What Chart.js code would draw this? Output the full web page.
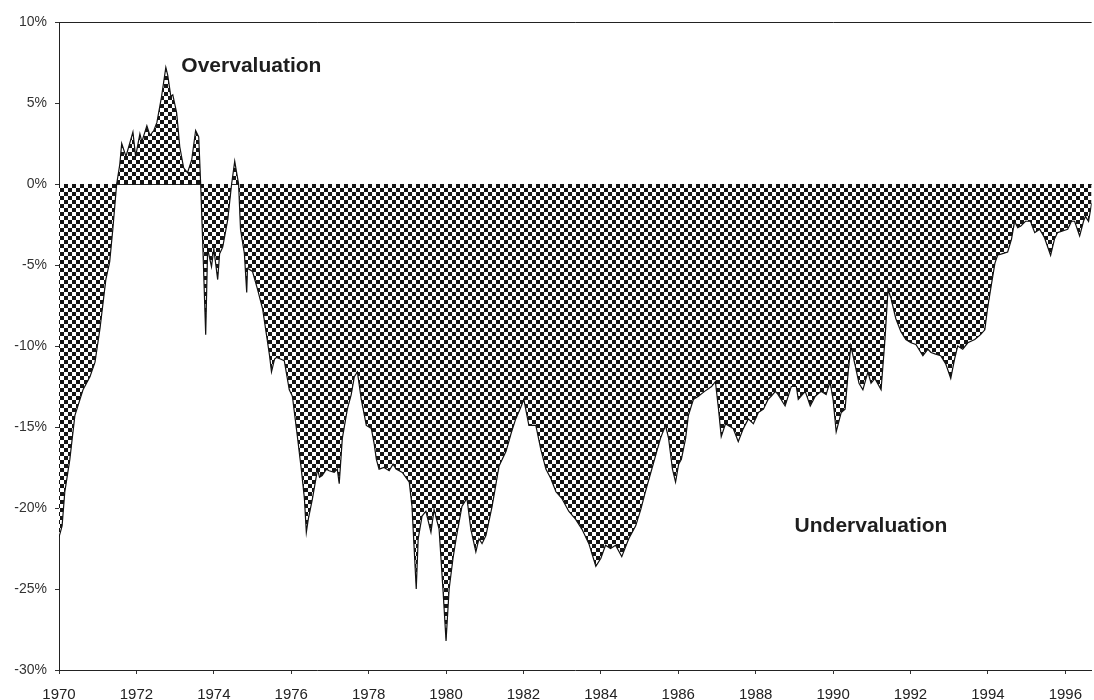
<!DOCTYPE html>
<html>
<head>
<meta charset="utf-8">
<script src="https://cdn.jsdelivr.net/npm/chart.js@4/dist/chart.umd.min.js"></script>
<style>
  html, body { margin: 0; padding: 0; background: #fff; }
  canvas { display: block; }
</style>
</head>
<body>
<canvas id="chart" width="1094" height="700"></canvas>
<script>
// 1970s: dates in decimal years, deviation in %
const years70s = [1970.00,1970.08,1970.15,1970.28,1970.41,1970.62,1970.80,1970.93,1971.06,1971.21,1971.31,1971.39,1971.49,
  1971.57,1971.62,1971.73,1971.91,1971.98,1972.09,1972.14,1972.27,1972.35,1972.45,1972.53,1972.65,1972.76,1972.81,1972.89,1972.94,
  1973.04,1973.12,1973.22,1973.32,1973.43,1973.53,1973.61,1973.66,
  1973.71,1973.79,1973.84,1973.94,1974.00,1974.10,1974.15,1974.23,1974.36,1974.46,1974.54,1974.64,
  1974.69,1974.79,1974.85,1974.87,1975.00,1975.13,1975.26,1975.36,1975.44,1975.49,1975.57,1975.62,1975.72,1975.82,1975.95,
  1976.03,1976.16,1976.26,1976.34,1976.39,1976.44,1976.55,1976.68,1976.73,1976.80,1976.91,1976.98,1977.11,1977.19,1977.24,
  1977.32,1977.45,1977.55,1977.63,1977.71,1977.81,1977.94,1978.07,1978.14,1978.20,1978.27,1978.40,1978.53,1978.63,1978.71,
  1978.87,1979.05,1979.12,1979.23,1979.28,1979.38,1979.48,1979.61,1979.69,1979.82,1979.92];
const values70s = [-21.8,-21.1,-19.0,-17.0,-14.3,-12.7,-11.9,-11.0,-8.9,-5.9,-4.8,-2.8,0,
  1.2,2.5,1.7,3.2,1.7,3.1,2.6,3.6,3.0,3.3,3.8,5.4,7.2,6.7,5.4,5.5,
  4.4,2.3,1.0,0.7,1.5,3.3,2.9,0,
  -3.4,-9.3,-4.0,-5.1,-4.0,-5.9,-4.3,-3.9,-2.2,0,1.4,0,
  -2.8,-4.3,-6.7,-5.2,-5.4,-6.5,-7.7,-9.3,-10.6,-11.6,-10.8,-10.7,-10.8,-10.9,-12.7,
  -13.1,-15.6,-17.6,-19.4,-21.5,-20.7,-19.4,-17.6,-18.1,-18.0,-17.6,-17.7,-17.8,-17.6,-18.5,
  -15.7,-13.9,-13.0,-11.9,-11.6,-13.3,-14.9,-15.1,-16.0,-17.0,-17.6,-17.5,-17.7,-17.3,-17.6,
  -17.8,-18.4,-19.9,-25.0,-21.9,-20.5,-20.2,-21.5,-20.1,-21.3,-25.0];

const years80s = [1980.00,1980.08,1980.18,1980.26,1980.41,1980.54,1980.64,1980.77,1980.85,1980.93,1981.03,1981.19,1981.37,
  1981.55,1981.68,1981.80,1981.91,1982.01,1982.14,1982.32,1982.45,1982.58,1982.71,1982.84,1982.99,1983.17,1983.35,1983.51,
  1983.69,1983.87,1984.00,1984.12,1984.25,1984.38,1984.54,1984.72,1984.90,1985.03,1985.15,1985.28,1985.41,1985.54,1985.67,
  1985.75,1985.85,1985.93,1986.01,1986.08,1986.19,1986.26,1986.39,1986.52,1986.68,1986.86,1986.96,1987.04,1987.11,1987.22,
  1987.29,1987.42,1987.55,1987.68,1987.81,1987.94,1988.07,1988.20,1988.32,1988.40,1988.51,1988.58,1988.76,1988.92,1989.05,
  1989.10,1989.28,1989.41,1989.54,1989.69,1989.82,1989.92];
const values80s = [-28.2,-25.0,-23.1,-21.9,-19.9,-19.4,-21.3,-22.7,-21.9,-22.2,-21.7,-19.9,-17.4,
  -16.5,-15.4,-14.5,-13.9,-13.3,-14.9,-14.9,-16.4,-17.6,-18.2,-19.0,-19.4,-20.2,-20.7,-21.3,
  -22.2,-23.6,-23.1,-22.3,-22.5,-22.3,-23.0,-21.9,-21.1,-20.1,-19.0,-17.9,-16.8,-15.7,-14.9,
  -15.7,-17.6,-18.4,-17.3,-17.0,-15.7,-14.3,-13.3,-13.1,-12.8,-12.5,-12.2,-13.9,-15.6,-14.8,
  -14.9,-15.1,-15.9,-15.1,-14.5,-14.8,-14.1,-13.9,-13.3,-13.1,-12.8,-13.0,-13.7,-12.5,-12.5,
  -13.3,-12.8,-13.7,-13.1,-12.8,-13.0,-12.2];

const years90s = [1990.00,1990.08,1990.21,1990.31,1990.39,1990.46,1990.57,1990.67,1990.77,1990.90,1990.98,1991.08,1991.24,
  1991.34,1991.42,1991.50,1991.62,1991.75,1991.88,1992.01,1992.14,1992.32,1992.45,1992.53,1992.65,1992.78,1992.91,1993.04,
  1993.14,1993.22,1993.35,1993.48,1993.66,1993.81,1993.92,1993.99,1994.07,1994.18,1994.25,1994.38,1994.51,1994.61,1994.69,
  1994.77,1994.85,1994.97,1995.10,1995.21,1995.34,1995.46,1995.62,1995.72,1995.80,1995.93,1996.06,1996.16,1996.24,1996.37,
  1996.47,1996.52,1996.60,1996.68];
const values90s = [-13.3,-15.3,-14.1,-13.9,-11.6,-10.0,-11.2,-12.3,-12.7,-11.6,-12.3,-12.0,-12.7,
  -9.6,-6.5,-7.1,-8.3,-9.1,-9.6,-9.8,-9.9,-10.6,-10.2,-10.4,-10.5,-10.6,-11.1,-12.0,
  -10.8,-10.0,-10.2,-9.8,-9.6,-9.3,-9.0,-7.7,-6.5,-4.9,-4.4,-4.3,-4.2,-3.4,-2.3,
  -2.7,-2.6,-2.3,-2.3,-3.0,-2.8,-3.3,-4.4,-3.4,-3.0,-2.9,-2.8,-2.3,-2.3,-3.2,
  -2.3,-2.0,-2.3,-1.2];

const xTicks = [1970,1972,1974,1976,1978,1980,1982,1984,1986,1988,1990,1992,1994,1996];
const yTicks = [-30,-25,-20,-15,-10,-5,0,5,10];

const allYears = years70s.concat(years80s, years90s);
const allValues = values70s.concat(values80s, values90s);
const points = allYears.map((yr, i) => ({ x: yr, y: allValues[i] }));

// checkered fill
const pc = document.createElement("canvas");
pc.width = 8; pc.height = 8;
const pctx = pc.getContext("2d");
pctx.fillStyle = "#fff";
pctx.fillRect(0, 0, 8, 8);
pctx.fillStyle = "#151515";
pctx.fillRect(0, 0, 4, 4);
pctx.fillRect(4, 4, 4, 4);
const ctx = document.getElementById("chart").getContext("2d");
const checker = ctx.createPattern(pc, "repeat");

const labelsPlugin = {
  id: "areaLabels",
  afterDatasetsDraw(chart) {
    const { ctx, scales } = chart;
    ctx.save();
    ctx.font = 'bold 21px "Liberation Sans", Arial, sans-serif';
    ctx.fillStyle = "#1e1e1e";
    ctx.textAlign = "center";
    ctx.textBaseline = "middle";
    ctx.fillText("Overvaluation", scales.x.getPixelForValue(1974.97), scales.y.getPixelForValue(7.3));
    ctx.fillText("Undervaluation", scales.x.getPixelForValue(1990.98), scales.y.getPixelForValue(-21.1));
    ctx.restore();
  }
};

new Chart(ctx, {
  type: "line",
  data: {
    datasets: [{
      data: points,
      borderColor: "#111",
      borderWidth: 1.2,
      backgroundColor: checker,
      fill: "origin",
      pointRadius: 0,
      tension: 0
    }]
  },
  options: {
    responsive: false,
    animation: false,
    devicePixelRatio: 1,
    layout: { padding: { top: 22, right: -3, left: 0, bottom: 0 } },
    plugins: { legend: { display: false }, tooltip: { enabled: false } },
    scales: {
      x: {
        type: "linear",
        min: 1970,
        max: 1996.68,
        afterBuildTicks: (s) => { s.ticks = xTicks.map(v => ({ value: v })); },
        afterFit: (s) => { s.height = 30; },
        border: { color: "#222", width: 1 },
        grid: { color: "transparent", tickColor: "#333", tickLength: 4 },
        ticks: {
          padding: 12,
          maxRotation: 0,
          autoSkip: false,
          color: "#222",
          font: { family: '"Liberation Sans", Arial, sans-serif', size: 15 },
          callback: (v) => String(v)
        }
      },
      y: {
        min: -30,
        max: 10,
        z: 1,
        afterBuildTicks: (s) => { s.ticks = yTicks.map(v => ({ value: v })); },
        afterFit: (s) => { s.width = 59; },
        border: { color: "#222", width: 1 },
        grid: {
          color: (c) => (c.tick && (c.tick.value === 0 || c.tick.value === 10)) ? "#222" : "transparent",
          tickColor: "#333",
          tickLength: 4
        },
        ticks: {
          padding: 8,
          color: "#333",
          font: { family: '"Liberation Sans", Arial, sans-serif', size: 14 },
          callback: (v) => v + "%"
        }
      }
    }
  },
  plugins: [labelsPlugin]
});
</script>
</body>
</html>
